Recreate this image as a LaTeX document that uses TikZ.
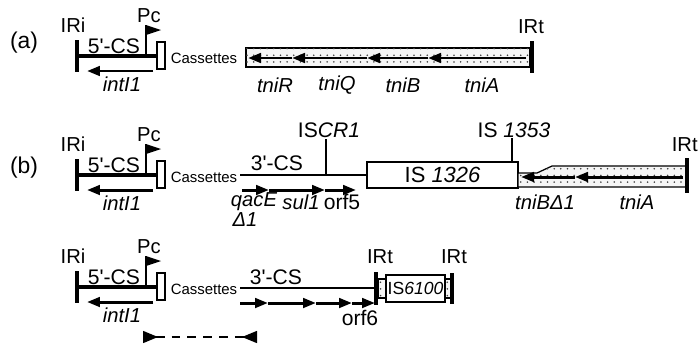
\documentclass[tikz,border=0pt]{standalone}
\usepackage{fontspec}
\setmainfont{Liberation Sans}
\usetikzlibrary{arrows.meta,patterns.meta}

\tikzset{
  lbl/.style={inner sep=0pt,font=\fontsize{11.5}{13}\selectfont},
  txt/.style={inner sep=0pt,font=\fontsize{12}{14}\selectfont},
  gname/.style={inner sep=0pt,font=\fontsize{11.5}{14}\selectfont\itshape},
  casfont/.style={inner sep=0pt,font=\fontsize{8.5}{10}\selectfont},
  bar/.style={line width=2.7pt},
  cs/.style={line width=2.3pt},
  csline/.style={line width=0.6pt},
  gene/.style={line width=1.7pt,-{Triangle[length=2.6mm,width=1.9mm]}},
  tnfill/.style={fill=gray!8,line width=0.7pt,
    postaction={pattern={Dots[distance=3.8pt,radius=0.5pt]},pattern color=black!75}},
}

\begin{document}
\begin{tikzpicture}[x=0.02cm,y=-0.02cm]
  \useasboundingbox (0,0) rectangle (699,349);

  % the 5' part, same in every row
  \foreach \y/\r in {56/a,175/b,287/c}{
    \draw[bar] (77,\y-16) -- (77,\y+16);
    \node[lbl] (iri-\r) at (73,\y-31) {IRi};
    \draw[cs] (77,\y) -- (157,\y);
    \node[txt] (cs5-\r) at (114,\y-10) {5\textquotesingle-CS};
    \draw[line width=0.8pt] (146,\y) -- (146,\y-31);
    \fill (146,\y-31) -- (161,\y-26) -- (146,\y-21) -- cycle;
    \node[lbl] (pc-\r) at (149,\y-40) {Pc};
    \draw[fill=white,line width=0.8pt] (157,\y-14) rectangle (165,\y+13);
    \draw[gene] (153,\y+15) -- (87,\y+15);
    \node[gname] (int-\r) at (122,\y+28) {intI1};
    \node[casfont] (cas-\r) at (204,\y+2) {Cassettes};
  }

  % (a)
  \node[txt,font=\fontsize{13}{15}\selectfont] (lab-a) at (24,43) {(a)};
  \draw[tnfill] (246,48) rectangle (530,67);
  \foreach \a/\b in {526/428,428/367,367/292,292/248}
    \draw[gene] (\a,58) -- (\b,58);
  \draw[bar] (532,41) -- (532,73);
  \node[lbl] (irt-a) at (531,27) {IRt};
  \foreach \x/\g in {275/tniR,337/tniQ,403/tniB,482/tniA}
    \node[gname] (\g-a) at (\x,85) {\g};

  % (b)
  \node[txt,font=\fontsize{13}{15}\selectfont] (lab-b) at (24,168) {(b)};
  \draw[csline] (240,175) -- (367,175);
  \node[txt] (cs3-b) at (277,163) {3\textquotesingle-CS};
  \node[txt] (iscr) at (329,130) {IS\textit{CR1}};
  \draw[line width=0.7pt] (326,139) -- (326,175);
  \node[draw,line width=0.8pt,minimum width=3.02cm,minimum height=0.52cm,
    inner sep=0pt,font=\fontsize{12.5}{14}\selectfont] (is1326) at (442.5,175) {IS \textit{1326}};
  \node[txt] (is1353) at (514,130) {IS \textit{1353}};
  \draw[line width=0.7pt] (512,138) -- (512,162);
  \draw[tnfill] (518,173) -- (537,173) -- (552,166) -- (687,166) -- (687,187) -- (518,187) -- cycle;
  \draw[gene] (683,177) -- (575,177);
  \draw[gene] (575,177) -- (521,177);
  \draw[bar] (687,158) -- (687,193);
  \node[lbl,anchor=east] (irt-b) at (698,145) {IRt};
  \foreach \a/\b in {242/269,269/325,325/356}
    \draw[gene] (\a,190) -- (\b,190);
  \node[gname] (qace) at (254,202) {qacE};
  \node[gname] (dqace) at (245,220) {Δ1};
  \node[gname] (sul1) at (301,202) {sul1};
  \node[txt] (orf5) at (342,202) {orf5};
  \node[gname] (tnib-b) at (545,202) {tniBΔ1};
  \node[gname] (tnia-b) at (637,202) {tniA};

  % third row
  \draw[csline] (240,288) -- (376,288);
  \node[txt] (cs3-c) at (276,277) {3\textquotesingle-CS};
  \foreach \a/\b in {240/268,268/316,316/352,352/375}
    \draw[gene] (\a,303) -- (\b,303);
  \node[txt] (orf6) at (360,318) {orf6};
  \draw[tnfill] (378,279) rectangle (451,298);
  \node[draw,fill=white,line width=0.8pt,minimum width=1.18cm,minimum height=0.54cm,
    inner sep=0pt,font=\fontsize{10}{12}\selectfont] (is6100) at (415.5,288.5) {IS\textit{6100}};
  \draw[bar] (376,272) -- (376,305);
  \draw[bar] (452,273) -- (452,304);
  \node[lbl] (irt-c1) at (380,257) {IRt};
  \node[lbl] (irt-c2) at (454,257) {IRt};
  \coordinate (dl) at (143,337);
  \coordinate (dr) at (257,337);
  \draw[line width=0.8pt,dash pattern=on 5pt off 4pt,
    {Triangle[reversed,length=3mm,width=2.4mm]}-{Triangle[reversed,length=3mm,width=2.4mm]}] (dl) -- (dr);
\end{tikzpicture}
\end{document}
